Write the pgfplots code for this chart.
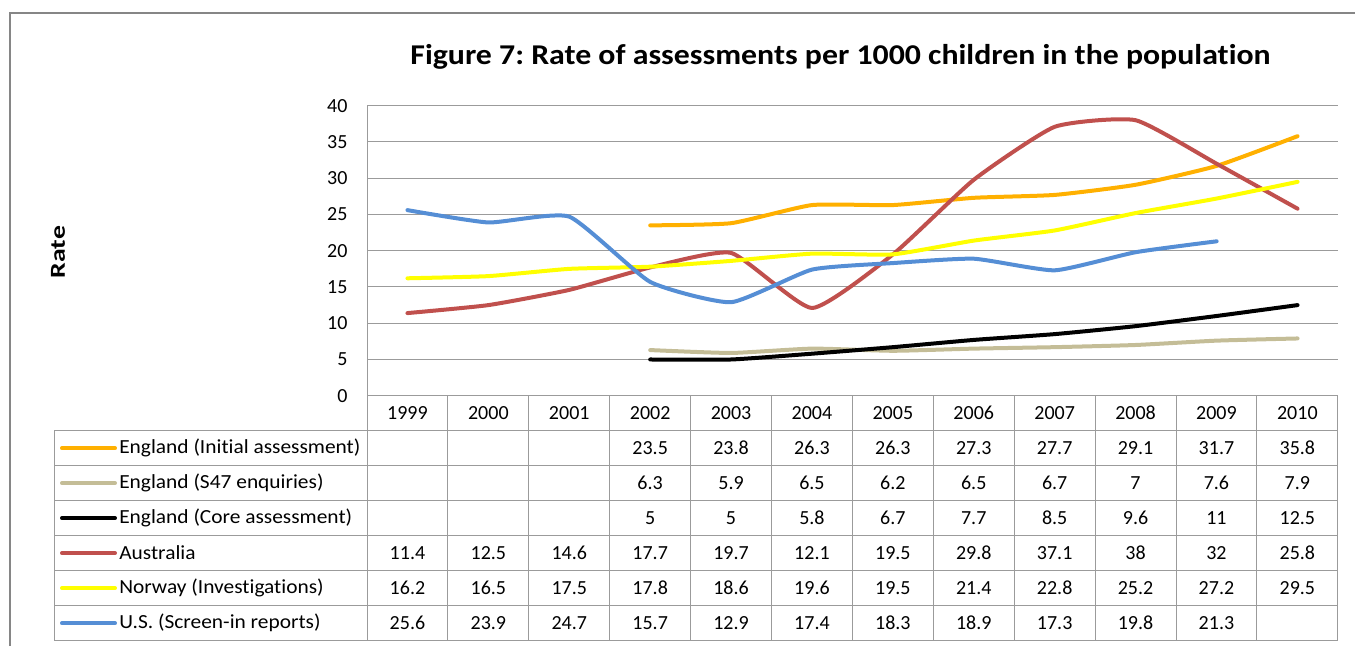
\documentclass[border=0pt]{standalone}
\usepackage{pgfplots}
\pgfplotsset{compat=1.18}
\usepackage{fontspec}
\setmainfont{Carlito}[Ligatures={NoCommon}]
\frenchspacing
\definecolor{cOrange}{RGB}{255,176,0}
\definecolor{cTan}{RGB}{196,189,151}
\definecolor{cRed}{RGB}{192,80,77}
\definecolor{cYellow}{RGB}{255,255,0}
\definecolor{cBlue}{RGB}{85,142,213}
\definecolor{cGrid}{RGB}{155,155,155}
\definecolor{cFrame}{RGB}{134,134,134}
\begin{document}
\begin{tikzpicture}[x=0.75pt,y=-0.75pt]
\useasboundingbox (0,0) rectangle (1355,646);
\draw[cFrame, line width=1.5pt] (9.5,646) -- (9.5,13.3) -- (1355,13.3);
\node[font=\fontsize{21.5}{24}\selectfont\bfseries, xscale=1.11] at (840.5,57) {Figure 7: Rate of assessments per 1000 children in the population};
\node[rotate=90, xscale=1.3, font=\fontsize{16}{18}\selectfont\bfseries] at (58,252) {Rate};
\begin{axis}[at={(275.25pt,-296.8pt)}, anchor=south west, scale only axis,
  width=728.25pt, height=217.5pt, xmin=-0.5, xmax=11.5, ymin=0, ymax=40,
  ytick={0,5,...,40}, xtick=\empty, ymajorgrids,
  grid style={cGrid, line width=0.75pt},
  axis x line*=bottom, axis y line*=left,
  axis line style={cGrid, line width=0.75pt, -},
  major tick length=0pt,
  tick label style={font=\fontsize{15}{17}\selectfont},
  /pgf/number format/assume math mode=true,
  yticklabel style={anchor=east, inner sep=0pt, xshift=-14.5pt},
  clip=false,
  every axis plot/.append style={line width=3pt, line cap=round, line join=round, smooth, tension=0.3, mark=none}]
\addplot[cOrange] coordinates {(3,23.5)(4,23.8)(5,26.3)(6,26.3)(7,27.3)(8,27.7)(9,29.1)(10,31.7)(11,35.8)};
\addplot[cTan] coordinates {(3,6.3)(4,5.9)(5,6.5)(6,6.2)(7,6.5)(8,6.7)(9,7)(10,7.6)(11,7.9)};
\addplot[black] coordinates {(3,5)(4,5)(5,5.8)(6,6.7)(7,7.7)(8,8.5)(9,9.6)(10,11)(11,12.5)};
\addplot[cRed] coordinates {(0,11.4)(1,12.5)(2,14.6)(3,17.7)(4,19.7)(5,12.1)(6,19.5)(7,29.8)(8,37.1)(9,38)(10,32)(11,25.8)};
\addplot[cYellow] coordinates {(0,16.2)(1,16.5)(2,17.5)(3,17.8)(4,18.6)(5,19.6)(6,19.5)(7,21.4)(8,22.8)(9,25.2)(10,27.2)(11,29.5)};
\addplot[cBlue] coordinates {(0,25.6)(1,23.9)(2,24.7)(3,15.7)(4,12.9)(5,17.4)(6,18.3)(7,18.9)(8,17.3)(9,19.8)(10,21.3)};
\end{axis}
% data table
\begin{scope}[cGrid, line width=0.75pt]
\draw (367,395.7) -- (367,640.7);
\foreach \k in {1,...,12} \draw ({367+80.9*\k},395.7) -- ({367+80.9*\k},640.7);
\foreach \yy in {430.7,465.6,500.6,535.6,570.6,605.6,640.7} \draw (54.3,\yy) -- (1337.8,\yy);
\draw (54.3,430.7) -- (54.3,640.7);
\end{scope}
\tikzset{tb/.style={font=\fontsize{15}{17}\selectfont, inner sep=0pt}}
\foreach \yr [count=\i from 0] in {1999,2000,2001,2002,2003,2004,2005,2006,2007,2008,2009,2010}
  \node[tb] at ({367+80.9*(\i+0.5)},413) {\yr};
\newcommand\tabrow[4]{%
  \draw[#2, line width=3pt, line cap=round] (62,#1) -- (115,#1);
  \node[tb, anchor=west, xscale=1.07] at (119,#1) {#3};
  \foreach \v [count=\i from 0] in {#4}
    \node[tb] at ({367+80.9*(\i+0.5)},#1) {\v};
}
\tabrow{448.2}{cOrange}{England (Initial assessment)}{{},{},{},23.5,23.8,26.3,26.3,27.3,27.7,29.1,31.7,35.8}
\tabrow{483.1}{cTan}{England (S47 enquiries)}{{},{},{},6.3,5.9,6.5,6.2,6.5,6.7,7,7.6,7.9}
\tabrow{518.1}{black}{England (Core assessment)}{{},{},{},5,5,5.8,6.7,7.7,8.5,9.6,11,12.5}
\tabrow{553.1}{cRed}{Australia}{11.4,12.5,14.6,17.7,19.7,12.1,19.5,29.8,37.1,38,32,25.8}
\tabrow{588.1}{cYellow}{Norway (Investigations)}{16.2,16.5,17.5,17.8,18.6,19.6,19.5,21.4,22.8,25.2,27.2,29.5}
\tabrow{623.2}{cBlue}{U.S. (Screen-in reports)}{25.6,23.9,24.7,15.7,12.9,17.4,18.3,18.9,17.3,19.8,21.3,{}}
\end{tikzpicture}
\end{document}
